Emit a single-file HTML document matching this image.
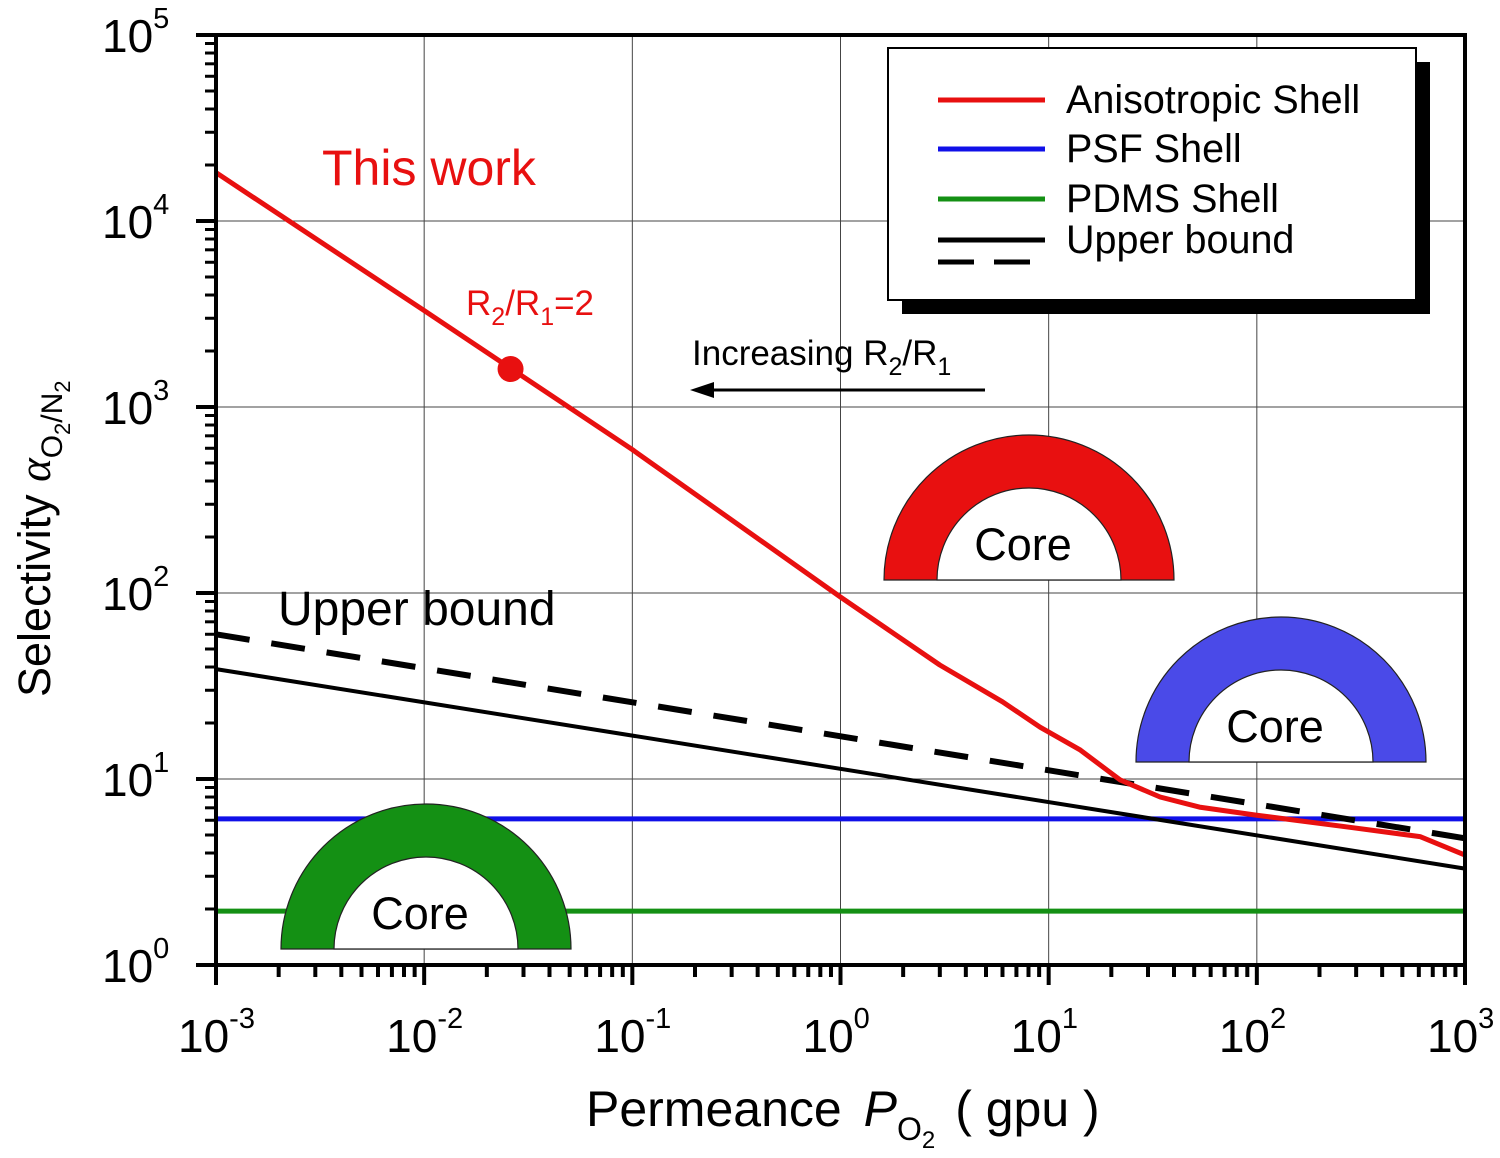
<!DOCTYPE html>
<html><head><meta charset="utf-8"><style>
body{margin:0;background:#fff}
svg{display:block;font-family:"Liberation Sans",Arial,sans-serif}
</style></head><body>
<svg id="chart" width="1500" height="1158" viewBox="0 0 1500 1158" xmlns="http://www.w3.org/2000/svg"></svg>
<script>
const xDecades=[-3,-2,-1,0,1,2,3];
const yDecades=[0,1,2,3,4,5];
const redX=[0.001,0.01,0.1,1,3,6,9.1,14.2,22,34.3,53,99,280,608,1000];
const redY=[18200,3300,590,95,41,26,19,14.3,9.9,8.0,7.06,6.4,5.5,4.9,3.9];
const boundX=[0.001,1000];
const solidY=[39,3.3];
const dashY=[60,4.8];
const psfY=[6.1,6.1];
const pdmsY=[1.95,1.95];
const markerX=[0.026], markerY=[1600];

const X0=216,X1=1465,Y0=965,Y1=35;
const sx=v=>X0+(Math.log10(v)+3)/6*(X1-X0);
const sy=v=>Y0-Math.log10(v)/5*(Y0-Y1);
const svg=document.getElementById('chart');
const NS='http://www.w3.org/2000/svg';
function mk(tag,attrs,parent){const e=document.createElementNS(NS,tag);for(const k in attrs)e.setAttribute(k,attrs[k]);(parent||svg).appendChild(e);return e;}

for(const d of xDecades){const x=sx(10**d);
 const g=mk('line',{x1:x,x2:x,y1:Y1,y2:Y0,stroke:'#444','stroke-width':1});
 
 }
for(const d of yDecades){const y=sy(10**d);
 const g=mk('line',{x1:X0,x2:X1,y1:y,y2:y,stroke:'#444','stroke-width':1});
 
 }

function line(xs,ys,color,w,name,dash){
 const p=xs.map((x,i)=>(i?'L':'M')+sx(x).toFixed(1)+','+sy(ys[i]).toFixed(1)).join(' ');
 const e=mk('path',{d:p,fill:'none',stroke:color,'stroke-width':w,'stroke-linejoin':'round'});
 if(dash)e.setAttribute('stroke-dasharray',dash);
 
 
}
line(boundX,pdmsY,'#149014',5,'pdms-shell-line');
line(boundX,psfY,'#1010e8',5,'psf-shell-line');
line(boundX,solidY,'#000',4,'upper-bound-solid-line');
line(boundX,dashY,'#000',6,'upper-bound-dashed-line','34,22');
line(redX,redY,'#e81010',5,'anisotropic-shell-line');
const m=mk('circle',{cx:sx(markerX[0]),cy:sy(markerY[0]),r:13,fill:'#e81010'});



function semi(cx,cy,fill,name,label){
 const g=mk('g',{});
 
 
 const R=145,r=92;
 mk('path',{d:`M${cx-R},${cy} A${R},${R} 0 0 1 ${cx+R},${cy} Z`,fill:fill,stroke:'#222','stroke-width':1.2},g);
 mk('path',{d:`M${cx-r},${cy} A${r},${r} 0 0 1 ${cx+r},${cy} Z`,fill:'#fff',stroke:'#222','stroke-width':1.2},g);
 const t=mk('text',{x:cx-6,y:cy-20,'font-size':45,'text-anchor':'middle',fill:'#000'},g);t.textContent=label;
}
semi(1029,580,'#e81010','red-core-shell','Core');
semi(1281,762,'#4a4ae8','blue-core-shell','Core');
semi(426,949,'#149014','green-core-shell','Core');

const fr=mk('rect',{x:X0,y:Y1,width:X1-X0,height:Y0-Y1,fill:'none',stroke:'#000','stroke-width':4});


for(let d=-3;d<=3;d++){
 const x=sx(10**d);mk('line',{x1:x,x2:x,y1:Y0,y2:Y0+20,stroke:'#000','stroke-width':4});
 const t=mk('text',{x:x-38,y:1052,'font-size':46,fill:'#000'});
 
 
 t.innerHTML='10<tspan dy="-24" font-size="29">'+d+'</tspan>';
 if(d<3)for(let k=2;k<10;k++){const xx=sx(k*10**d);mk('line',{x1:xx,x2:xx,y1:Y0,y2:Y0+12,stroke:'#000','stroke-width':4});}
}
for(let d=0;d<=5;d++){
 const y=sy(10**d);mk('line',{x1:X0-20,x2:X0,y1:y,y2:y,stroke:'#000','stroke-width':4});
 const t=mk('text',{x:102,y:y+17,'font-size':46,fill:'#000'});
 
 
 t.innerHTML='10<tspan dy="-24" font-size="29">'+d+'</tspan>';
 if(d<5)for(let k=2;k<10;k++){const yy=sy(k*10**d);mk('line',{x1:X0-11,x2:X0,y1:yy,y2:yy,stroke:'#000','stroke-width':3});}
}

const lg=mk('g',{});


mk('rect',{x:902,y:62,width:528,height:252,fill:'#000'},lg);
mk('rect',{x:888,y:48,width:528,height:252,fill:'#fff',stroke:'#000','stroke-width':2},lg);
const ents=[['Anisotropic Shell','#e81010',100],['PSF Shell','#1010e8',149],['PDMS Shell','#149014',199],['Upper bound','#000',240]];
for(const [lab,c,y] of ents){
 const e=mk('g',{},lg);
 
 
 mk('line',{x1:938,x2:1045,y1:y,y2:y,stroke:c,'stroke-width':5},e);
 const t=mk('text',{x:1066,y:y+13,'font-size':39.5,fill:'#000'},e);t.textContent=lab;
}
mk('line',{x1:938,x2:1045,y1:262,y2:262,stroke:'#000','stroke-width':5,'stroke-dasharray':'36,20'},lg);

function txt(x,y,s,sz,c,name,html){const t=mk('text',{x:x,y:y,'font-size':sz,fill:c});if(html)t.innerHTML=s;else t.textContent=s;return t;}
txt(322,185,'This work',50,'#e81010','this-work-label');
txt(278,625,'Upper bound',48,'#000','upper-bound-label');
txt(466,315,'R<tspan dy="10" font-size="25">2</tspan><tspan dy="-10">/R</tspan><tspan dy="10" font-size="25">1</tspan><tspan dy="-10">=2</tspan>',35,'#e81010','r2-r1-label',true);
txt(692,365,'Increasing R<tspan dy="10" font-size="25">2</tspan><tspan dy="-10">/R</tspan><tspan dy="10" font-size="25">1</tspan>',35,'#000','increasing-r2-r1-label',true);
mk('line',{x1:985,x2:710,y1:390,y2:390,stroke:'#000','stroke-width':3});
const ar=mk('path',{d:'M690,390 L714,382 L714,398 Z',fill:'#000'});


txt(586,1126,'Permeance <tspan font-style="italic" dx="8">P</tspan><tspan dy="14" font-size="32">O</tspan><tspan dy="8" font-size="24">2</tspan><tspan dy="-22" dx="20">( gpu )</tspan>',50,'#000','x-axis-title',true);
const yt=txt(0,0,'Selectivity <tspan font-family="Liberation Serif" font-style="italic">α</tspan><tspan dy="12" font-size="30">O</tspan><tspan dy="8" font-size="22">2</tspan><tspan dy="-8" font-size="30">/N</tspan><tspan dy="8" font-size="22">2</tspan>',45,'#000','y-axis-title',true);
yt.setAttribute('transform','translate(50,697) rotate(-90)');
</script>
</body></html>
